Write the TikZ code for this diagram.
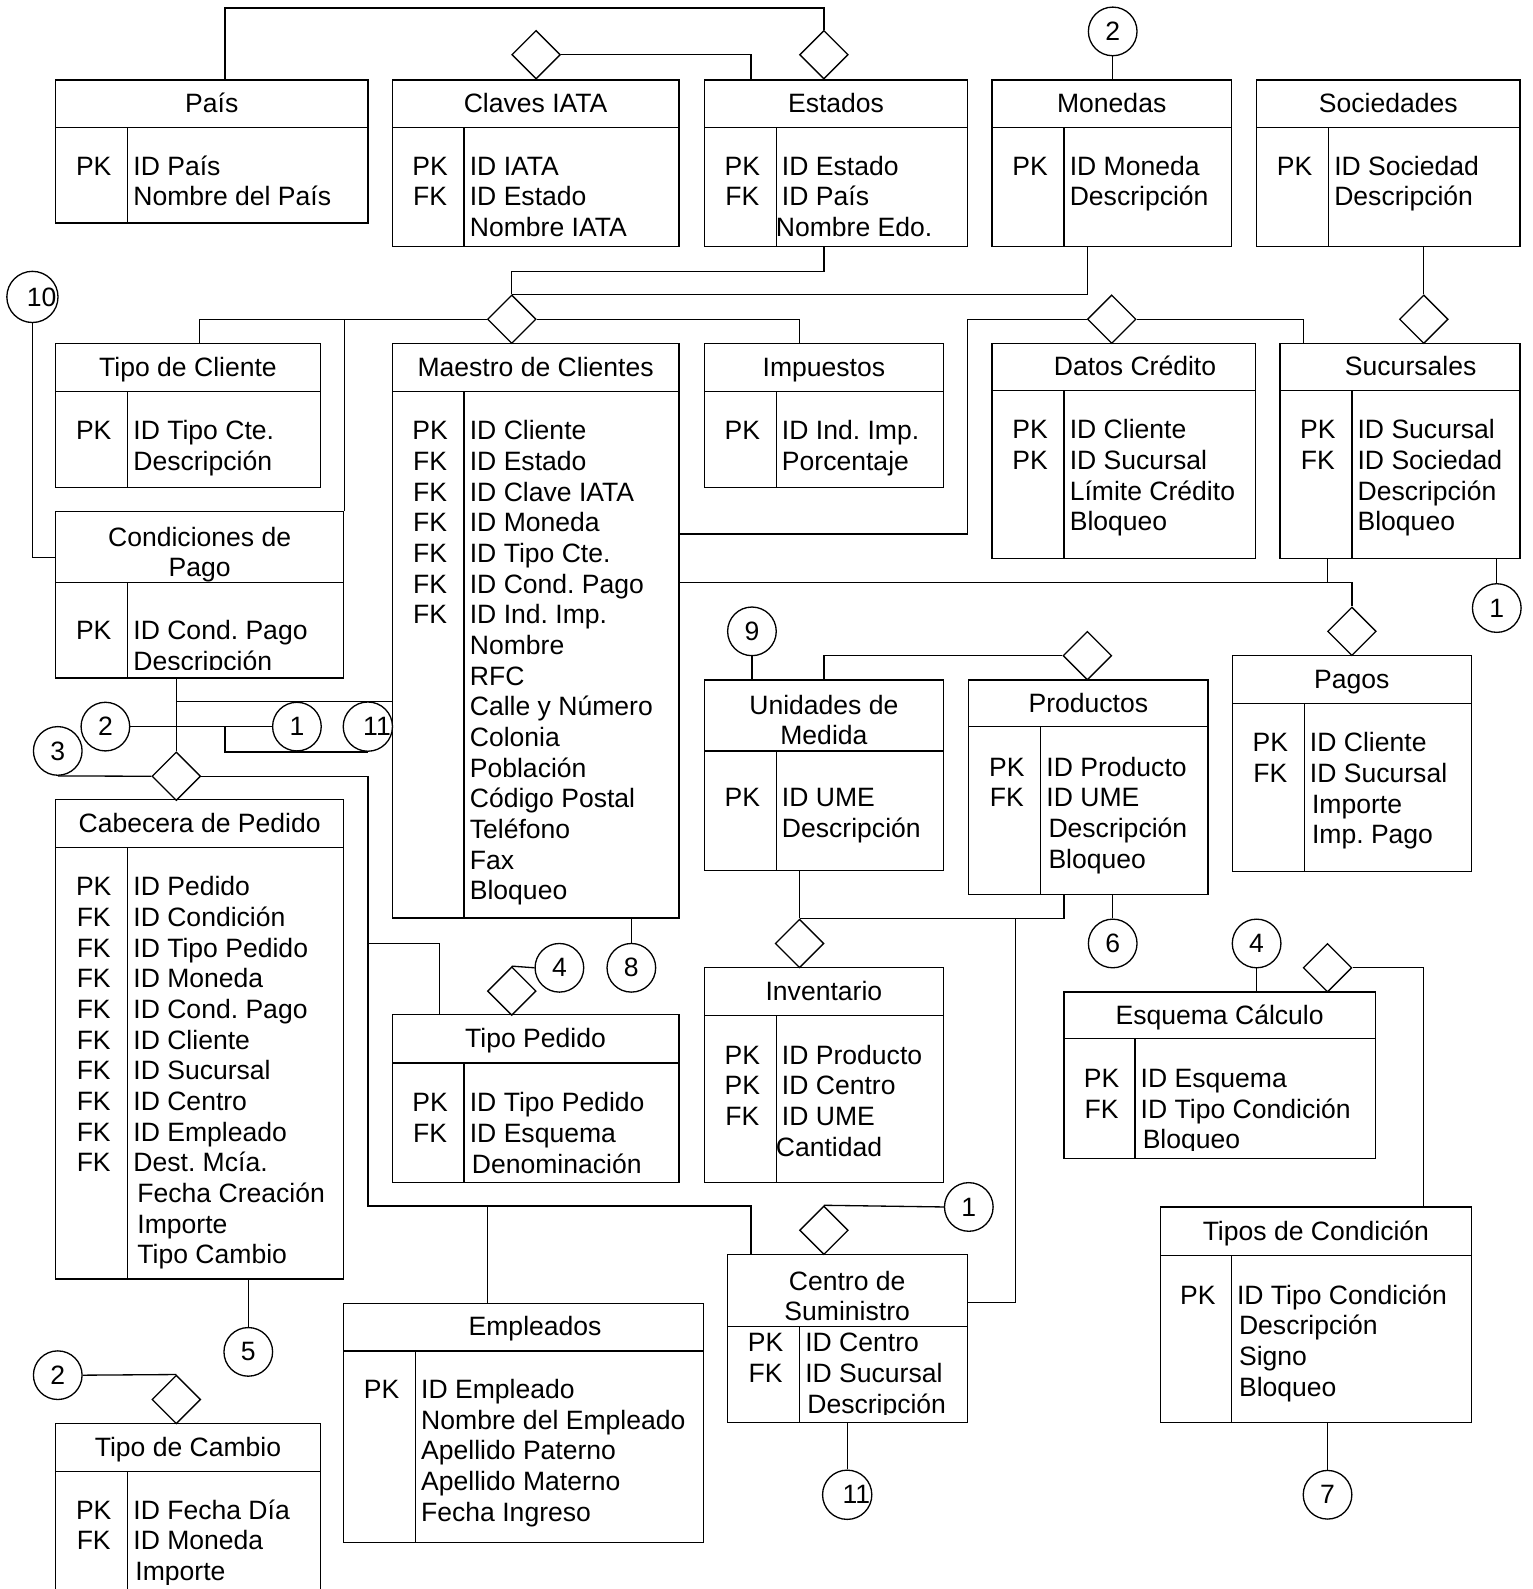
\documentclass[tikz,border=0pt]{standalone}
\usepackage{fontspec}
\setmainfont{Liberation Sans}
\usetikzlibrary{fit,shapes.geometric}
\frenchspacing

% table box: name, x1, x2, ytop, yhead, ybot, xdiv, first row, title
\newcommand\ertable[9]{%
  \def\erxa{#2}\def\erxb{#3}\def\eryh{#5}\def\eryb{#6}\def\erxd{#7}\def\eryr{#8}%
  \node[tbl,fit={(#2,#4) (#3,#6)}] (#1) {};
  \draw (#2,#5) -- (#3,#5) (#7,#5) -- (#7,#6);
  \if\relax\detokenize{#9}\relax\else
    \node[ttltxt] at ({(#2+#3)/2},{(#4+#5)/2+9}) {#9};
  \fi}
% one title line at a given centre
\newcommand\ertitle[3]{\node[ttltxt] at ({#1},{#2+9}) {#3};}
% key column and field column of the last table
\newcommand\erfields[2]{%
  \begin{scope}
    \clip (\erxa,\eryh) rectangle (\erxb,{\eryb-8});
    \foreach \k [count=\i from 0] in {#1}
      \node[keytxt] at ({(\erxa+\erxd)/2+2},{\eryr+9+\i*30.27}) {\k};
    \foreach \f [count=\i from 0] in {#2}
      \node[fldtxt] at ({\erxd+5},{\eryr+9+\i*30.27}) {\f};
  \end{scope}}

\begin{document}
\begin{tikzpicture}[x=0.5pt,y=-0.5pt,line width=0.65pt,
  every node/.style={font=\fontsize{13.1}{15}\selectfont},
  tbl/.style={draw,inner sep=0pt},
  keytxt/.style={anchor=base,inner sep=0pt},
  fldtxt/.style={anchor=base west,inner sep=0pt},
  ttltxt/.style={anchor=base,inner sep=0pt},
  rel/.style={diamond,draw,fill=white,inner sep=0pt,minimum width=24pt,minimum height=24pt},
  ref/.style={circle,draw,fill=white,inner sep=0pt,minimum size=24pt}]

\fill[white] (0,0) rectangle (1512,1568);
\clip (0,0) rectangle (1512,1568);

% ---------- tables ----------
\ertable{pais}{55}{363}{79}{126}{220}{126}{164}{País}
\erfields{PK}{ID País, Nombre del País}
\ertable{claves}{387}{670}{79}{126}{243}{458}{164}{Claves IATA}
\erfields{PK,FK}{ID IATA, ID Estado, Nombre IATA}
\ertable{estados}{695}{955}{79}{126}{243}{766}{164}{Estados}
\erfields{PK,FK}{ID Estado, ID País, \hspace*{-3pt}Nombre Edo.}
\ertable{monedas}{979}{1215}{79}{126}{243}{1050}{164}{Monedas}
\erfields{PK}{ID Moneda, Descripción}
\ertable{sociedades}{1240}{1500}{79}{126}{243}{1311}{164}{Sociedades}
\erfields{PK}{ID Sociedad, Descripción}

\ertable{tipocte}{55}{316}{339}{386}{481}{126}{425}{Tipo de Cliente}
\erfields{PK}{ID Tipo Cte., Descripción}
\ertable{maestro}{387}{670}{339}{386}{906}{458}{425}{Maestro de Clientes}
\erfields{PK,FK,FK,FK,FK,FK,FK}{ID Cliente, ID Estado, ID Clave IATA, ID Moneda,
  ID Tipo Cte., ID Cond. Pago, ID Ind. Imp., Nombre, RFC, Calle y Número, Colonia,
  Población, Código Postal, Teléfono, Fax, Bloqueo}
\ertable{impuestos}{695}{931}{339}{386}{481}{766}{425}{Impuestos}
\erfields{PK}{ID Ind. Imp., Porcentaje}
\ertable{credito}{979}{1239}{339}{385}{551}{1050}{424}{}
\ertitle{1120}{362}{Datos Crédito}
\erfields{PK,PK}{ID Cliente, ID Sucursal, Límite Crédito, Bloqueo}
\ertable{sucursales}{1263}{1500}{339}{385}{551}{1334}{424}{}
\ertitle{1392}{362}{Sucursales}
\erfields{PK,FK}{ID Sucursal, ID Sociedad, Descripción, Bloqueo}

\ertable{condpago}{55}{339}{505}{575}{669}{126}{622}{}
\ertitle{197}{530}{Condiciones de}
\ertitle{197}{560}{Pago}
\erfields{PK}{ID Cond. Pago, Descripción}

\ertable{cabecera}{55}{339}{789}{836}{1262}{126}{875}{Cabecera de Pedido}
\erfields{PK,FK,FK,FK,FK,FK,FK,FK,FK,FK}{ID Pedido, ID Condición, ID Tipo Pedido,
  ID Moneda, ID Cond. Pago, ID Cliente, ID Sucursal, ID Centro, ID Empleado,
  Dest. Mcía., \hspace*{2pt}Fecha Creación, \hspace*{2pt}Importe, \hspace*{2pt}Tipo Cambio}

\ertable{tipopedido}{387}{670}{1001}{1049}{1167}{458}{1088}{Tipo Pedido}
\erfields{PK,FK}{ID Tipo Pedido, ID Esquema, \hspace*{1pt}Denominación}

\ertable{unidades}{695}{931}{671}{741}{859}{766}{787}{}
\ertitle{813}{696}{Unidades de}
\ertitle{813}{726}{Medida}
\erfields{PK}{ID UME, Descripción}

\ertable{productos}{956}{1192}{671}{717}{883}{1027}{757}{Productos}
\erfields{PK,FK}{ID Producto, ID UME, \hspace*{1pt}Descripción, \hspace*{1pt}Bloqueo}

\ertable{inventario}{695}{931}{955}{1002}{1167}{766}{1041}{Inventario}
\erfields{PK,PK,FK}{ID Producto, ID Centro, ID UME, \hspace*{-3pt}Cantidad}

\ertable{pagos}{1216}{1452}{647}{694}{860}{1287}{733}{Pagos}
\erfields{PK,FK}{ID Cliente, ID Sucursal, \hspace*{1pt}Importe, \hspace*{1pt}Imp. Pago}

\ertable{esquema}{1050}{1357}{979}{1025}{1143}{1120}{1064}{Esquema Cálculo}
\erfields{PK,FK}{ID Esquema, ID Tipo Condición, \hspace*{1pt}Bloqueo}

\ertable{tiposcond}{1145}{1452}{1191}{1239}{1404}{1215}{1278}{Tipos de Condición}
\erfields{PK}{ID Tipo Condición, \hspace*{1pt}Descripción, \hspace*{1pt}Signo, \hspace*{1pt}Bloqueo}

\ertable{centro}{718}{955}{1238}{1309}{1404}{789}{1325}{}
\ertitle{836}{1264}{Centro de}
\ertitle{836}{1294}{Suministro}
\erfields{PK,FK}{ID Centro, ID Sucursal, \hspace*{1pt}Descripción}

\ertable{empleados}{339}{694}{1286}{1333}{1522}{410}{1371}{}
\ertitle{528}{1309}{Empleados}
\erfields{PK}{ID Empleado, Nombre del Empleado, Apellido Paterno, Apellido Materno, Fecha Ingreso}

\ertable{tipocambio}{55}{316}{1405}{1452}{1572}{126}{1490}{Tipo de Cambio}
\erfields{PK,FK}{ID Fecha Día, ID Moneda, \hspace*{1pt}Importe}

% ---------- relationship diamonds ----------
\node[rel] (dClaves) at (529,54) {};
\node[rel] (dEstados) at (813,54) {};
\node[rel] (dMaestro) at (505,315) {};
\node[rel] (dCredito) at (1097,315) {};
\node[rel] (dSucursales) at (1405,315) {};
\node[rel] (dCabecera) at (174,766) {};
\node[rel] (dTipoPedido) at (505,978) {};
\node[rel] (dProductos) at (1073,647) {};
\node[rel] (dInventario) at (789,931) {};
\node[rel] (dPagos) at (1334,623) {};
\node[rel] (dEsquema) at (1310,955) {};
\node[rel] (dCentro) at (813,1214) {};
\node[rel] (dTipoCambio) at (174,1381) {};

% ---------- off-page references ----------
\node[ref] (c2a) at (1098,31) {2};
\node[ref] (c10) at (32,293) {\hspace*{9pt}10};
\node[ref] (c2b) at (104,717) {2};
\node[ref] (c1a) at (293,717) {1};
\node[ref] (c11a) at (363,717) {\hspace*{9pt}11};
\node[ref] (c3) at (57,741) {3};
\node[ref] (c4a) at (552,955) {4};
\node[ref] (c8) at (623,955) {8};
\node[ref] (c9) at (742,623) {9};
\node[ref] (c6) at (1098,931) {6};
\node[ref] (c1b) at (1477,600) {1};
\node[ref] (c4b) at (1240,931) {4};
\node[ref] (c5) at (245,1334) {5};
\node[ref] (c2c) at (57,1357) {2};
\node[ref] (c1c) at (956,1191) {1};
\node[ref] (c11b) at (836,1475) {\hspace*{9pt}11};
\node[ref] (c7) at (1310,1475) {7};

% ---------- connectors ----------
\draw (pais.north -| 222,0) |- (dEstados.north |- 0,8) -- (dEstados.north);
\draw (dClaves.east) -| (estados.north -| 741,0);
\draw (estados.south -| 813,0) |- (dMaestro.north |- 0,268) -- (dMaestro.north);
\draw (monedas.south -| 1073,0) |- (dMaestro.north);
\draw (dMaestro.west) -| (tipocte.north -| 197,0);
\draw (dMaestro.west -| condpago.east) -- (condpago.north east);
\draw (dMaestro.east) -| (impuestos.north -| 789,0);
\draw (maestro.east |- 0,527) -| (dCredito.west -| 955,0) -- (dCredito.west);
\draw (dCredito.east) -| (sucursales.north -| 1286,0);
\draw (sociedades.south -| dSucursales.north) -- (dSucursales.north);
\draw (c2a.south) -- (c2a.south |- monedas.north);
\draw (c10.south) |- (condpago.west |- 0,550);
\draw (condpago.south -| dCabecera.north) -- (dCabecera.north);
\draw (dCabecera.north |- 0,692) -- (maestro.west |- 0,692);
\draw (c2b.east) -- (c1a.west);
\draw (c2b.east -| 222,0) |- (c11a.south);
\draw (c3.south) -- (dCabecera.west);
\draw (dCabecera.east) -| (363,1190) -| (centro.north -| 741,0);
\draw (363,931) -| (tipopedido.north -| 434,0);
\draw (481,1190) -- (empleados.north -| 481,0);
\draw (maestro.south -| c8.north) -- (c8.north);
\draw (dTipoPedido.north) -- (c4a.west);
\draw (c9.south) -- (c9.south |- unidades.north);
\draw (dProductos.west) -| (unidades.north -| 813,0);
\draw (unidades.south -| dInventario.north) -- (dInventario.north);
\draw (productos.south -| 1050,0) |- (dInventario.north);
\draw (1002,907) |- (centro.east |- 0,1285);
\draw (productos.south -| c6.north) -- (c6.north);
\draw (maestro.east |- 0,575) -| (dPagos.north);
\draw (sucursales.south -| 1310,0) -- (1310,575);
\draw (sucursales.south -| c1b.north) -- (c1b.north);
\draw (c4b.south) -- (c4b.south |- esquema.north);
\draw (dEsquema.east) -| (tiposcond.north -| 1405,0);
\draw (tiposcond.south -| c7.north) -- (c7.north);
\draw (dCentro.north) -- (c1c.west);
\draw (centro.south -| c11b.north) -- (c11b.north);
\draw (cabecera.south -| c5.north) -- (c5.north);
\draw (c2c.east) -- (dTipoCambio.north);

\end{tikzpicture}
\end{document}
